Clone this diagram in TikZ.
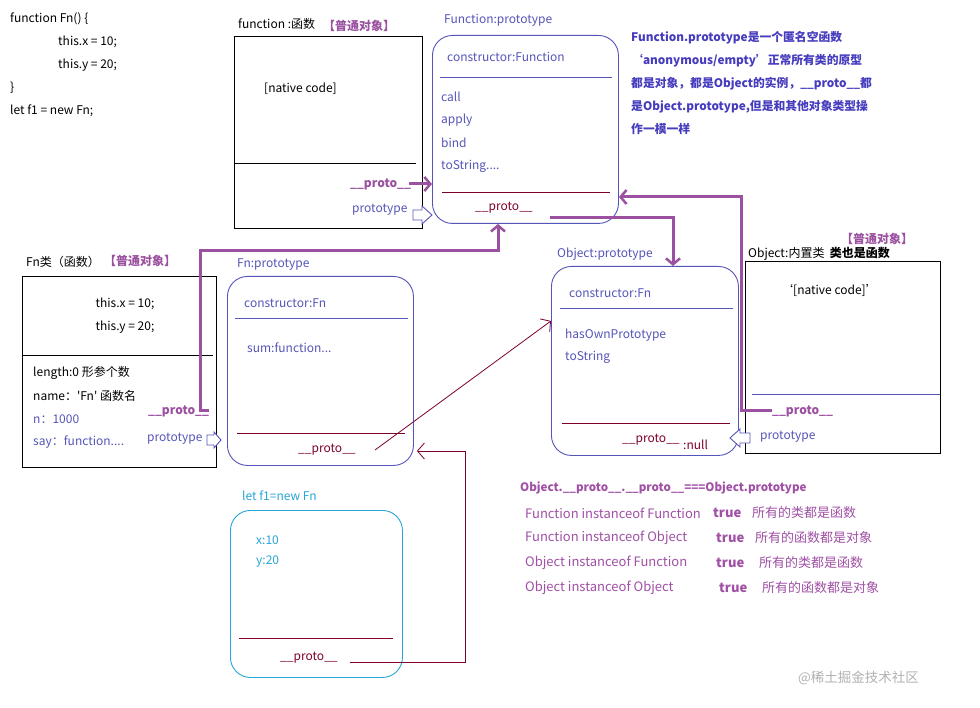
\documentclass[tikz,border=0pt]{standalone}
\usepackage{fontspec}
\defaultfontfeatures[\rmfamily]{}
\setmainfont{Noto Sans CJK SC}
\usetikzlibrary{arrows.meta}
\definecolor{pur}{RGB}{155,80,160}
\definecolor{blu}{RGB}{85,85,185}
\definecolor{dred}{RGB}{125,0,45}
\definecolor{cya}{RGB}{40,165,215}
\definecolor{notec}{RGB}{70,60,190}
\definecolor{ptxt}{RGB}{160,80,165}
\newcommand\protoword{\_\_proto\_\_}
\newcommand\linefont{\fontsize{13}{15}\selectfont}
\newcommand\cjkline{\fontsize{13}{15}\selectfont}
\begin{document}
\begin{tikzpicture}[x=1pt,y=-1pt,font=\fontsize{12}{14}\selectfont,
  t/.style={anchor=west,inner sep=0pt},
  sq/.style={draw,line width=0.9pt,anchor=north west,inner sep=0pt},
  rd/.style={draw=blu,line width=0.9pt,rounded corners=20pt,anchor=north west,inner sep=0pt},
  thk/.style={pur,line width=3pt,-{Straight Barb[length=6pt,width=14pt,line width=2.5pt]}},
  thin/.style={dred,line width=0.8pt,-{Straight Barb[length=7pt,width=16pt]}},
  sepb/.style={blu,line width=0.8pt},
  sepr/.style={dred,line width=0.8pt},
  hol/.style={blu,line width=0.9pt,fill=white}]
\useasboundingbox (0,0) rectangle (980,708);
\fill[white] (0,0) rectangle (980,708);

% code
\node[t] (c1) at (10,19) {function Fn() \{};
\node[t] (c2) at (58,42) {this.x = 10;};
\node[t] (c3) at (58,65) {this.y = 20;};
\node[t] (c4) at (10,88) {\}};
\node[t] (c5) at (10,111) {let f1 = new Fn;};

% function box
\node[sq,minimum width=188pt,minimum height=192pt] (fb) at (234,36) {};
\node[t] (fbt) at (238,24) {function :函数};
\node[t,pur] (fbo) at (323,26) {\textbf{【普通对象】}};
\draw[line width=0.8pt] (235,163) -- (416,163);
\node[t] (fbn) at (264,89) {[native code]};
\node[t,pur] (fbp) at (350,184) {\textbf{\protoword}};
\node[t,blu] (fbpt) at (352,210) {prototype};

% Function:prototype
\node[rd,minimum width=186pt,minimum height=188pt] (fp) at (432,35) {};
\node[t,blu] (fpt) at (444,20) {Function:prototype};
\node[t,blu] (fpc) at (447,57) {constructor:Function};
\draw[sepb] (440,77) -- (612,77);
\node[t,blu] (fp1) at (441,97) {call};
\node[t,blu] (fp2) at (441,120) {apply};
\node[t,blu] (fp3) at (441,143) {bind};
\node[t,blu] (fp4) at (441,166) {toString....};
\draw[sepr] (442,192) -- (610,192);
\node[t,dred] (fpp) at (475,208) {\protoword};

% note
\node[t,notec,align=left,anchor=north west,font=\fontsize{11.8}{23}\selectfont\bfseries] (note) at (631,31)
 {Function.prototype是一个匿名空函数\\
 ‘anonymous/empty’正常所有类的原型\\
 都是对象，都是Object的实例，\protoword 都\\
 是Object.prototype,但是和其他对象类型操\\
 作一模一样};

% Fn class box
\node[sq,minimum width=194pt,minimum height=191pt] (fn) at (22,276) {};
\node[t] (fnt) at (26,262) {Fn类（函数）};
\node[t,pur] (fno) at (104,261) {\textbf{【普通对象】}};
\node[inner sep=0pt] (fnx) at (125,304) {this.x = 10;};
\node[inner sep=0pt] (fny) at (125,327) {this.y = 20;};
\draw[line width=0.8pt] (22,355) -- (213,355);
\node[t] (fn1) at (33,373) {length:0 形参个数};
\node[t] (fn2) at (33,396) {name：'Fn' 函数名};
\node[t,blu] (fn3) at (33,419) {n：1000};
\node[t,blu] (fn4) at (33,442) {say：function....};
\node[t,pur] (fnpr) at (148,411) {\textbf{\protoword}};
\node[t,blu] (fnpt) at (147,439) {prototype};

% Fn:prototype
\node[rd,minimum width=186pt,minimum height=189pt] (fnp) at (227,276) {};
\node[t,blu] (fnpt2) at (237,265) {Fn:prototype};
\node[t,blu] (fnpc) at (244,303) {constructor:Fn};
\draw[sepb] (235,318) -- (408,318);
\node[t,blu] (fnps) at (247,348) {sum:function...};
\draw[sepr] (237,433) -- (405,433);
\node[t,dred] (fnpp) at (298,450) {\protoword};

% Object:prototype
\node[rd,minimum width=187pt,minimum height=189pt] (op) at (551,266) {};
\node[t,blu] (opt) at (557,254) {Object:prototype};
\node[t,blu] (opc) at (569,293) {constructor:Fn};
\draw[sepb] (560,308) -- (733,308);
\node[t,blu] (op1) at (565,335) {hasOwnPrototype};
\node[t,blu] (op2) at (565,357) {toString};
\draw[sepr] (562,423) -- (730,423);
\node[t,dred] (opp) at (622,440) {\protoword};
\node[t,dred] (opn) at (683,445) {:null};

% Object builtin
\node[sq,minimum width=195pt,minimum height=192pt] (ob) at (745,261) {};
\node[t] (obt) at (748,254) {Object:内置类\ \ \textbf{类也是函数}};
\node[t,pur] (obo) at (841,239) {\textbf{【普通对象】}};
\node[t] (obn) at (781,290) {‘[native code]’};
\draw[sepb] (752,394) -- (940,394);
\node[t,pur] (obp) at (772,411) {\textbf{\protoword}};
\node[t,blu] (obpt) at (760,437) {prototype};

% f1
\node[draw=cya,line width=0.9pt,rounded corners=20pt,anchor=north west,inner sep=0pt,minimum width=172pt,minimum height=167pt] (f1) at (230,510) {};
\node[t,cya] (f1t) at (242,496) {let f1=new Fn};
\node[t,cya] (f1x) at (256,540) {x:10};
\node[t,cya] (f1y) at (256,562) {y:20};
\draw[sepr] (239,638) -- (393,638);
\node[t,dred] (f1p) at (280,658) {\protoword};

% bottom text
\node[t,ptxt,font=\fontsize{11.6}{13}\selectfont] (b0) at (520,488) {\textbf{Object.\protoword.\protoword===Object.prototype}};
\node[t,ptxt] (b1) at (525,513) {\linefont Function instanceof Function};
\node[t,ptxt] (b1t) at (713,513) {\linefont\textbf{true}};
\node[t,ptxt] (b1c) at (752,513) {\cjkline 所有的类都是函数};
\node[t,ptxt] (b2) at (525,538) {\linefont Function instanceof Object};
\node[t,ptxt] (b2t) at (716,538) {\linefont\textbf{true}};
\node[t,ptxt] (b2c) at (755,538) {\cjkline 所有的函数都是对象};
\node[t,ptxt] (b3) at (525,563) {\linefont Object instanceof Function};
\node[t,ptxt] (b3t) at (716,563) {\linefont\textbf{true}};
\node[t,ptxt] (b3c) at (759,563) {\cjkline 所有的类都是函数};
\node[t,ptxt] (b4) at (525,588) {\linefont Object instanceof Object};
\node[t,ptxt] (b4t) at (719,588) {\linefont\textbf{true}};
\node[t,ptxt] (b4c) at (762,588) {\cjkline 所有的函数都是对象};

% watermark
\node[t,black!30,font=\fontsize{13.5}{15}\selectfont] (wm) at (798,678) {@稀土掘金技术社区};

% hollow prototype arrows
\draw[hol,shift={(432,215)}] (-19,-5) -- (-10,-5) -- (-10,-9) -- (0,0) -- (-10,9) -- (-10,5) -- (-19,5) -- cycle;
\draw[hol,shift={(221,440)}] (-14,-5) -- (-7,-5) -- (-7,-8) -- (0,0) -- (-7,8) -- (-7,5) -- (-14,5) -- cycle;
\draw[hol,shift={(730,438)}] (20,-5) -- (10,-5) -- (10,-9) -- (0,0) -- (10,9) -- (10,5) -- (20,5) -- cycle;

% thick purple connectors
\coordinate (k1) at (200,251);
\coordinate (k2) at (498,251);
\draw[thk] ([xshift=-2pt]fbp.east) -- (fp.west |- fbp);
\draw[thk] (fnpr.east) -| (k1) -- (k2) -- (fp.south -| k2);
\coordinate (k3) at (550,218);
\coordinate (k4) at (673,218);
\draw[thk] (k3) -- (k4) -- (op.north -| k4);
\coordinate (k5) at (741,197);
\draw[thk] (obp.west) -| (k5) -- (fp.east |- k5);

% thin dark red connectors
\coordinate (k6) at (375,450);
\draw[thin] (k6) -- ([yshift=40pt]op.west);
\coordinate (k7) at (350,662);
\coordinate (k8) at (465,451);
\draw[thin] (k7) -| (k8) -- ([xshift=3pt]fnp.east |- k8);
\end{tikzpicture}
\end{document}
